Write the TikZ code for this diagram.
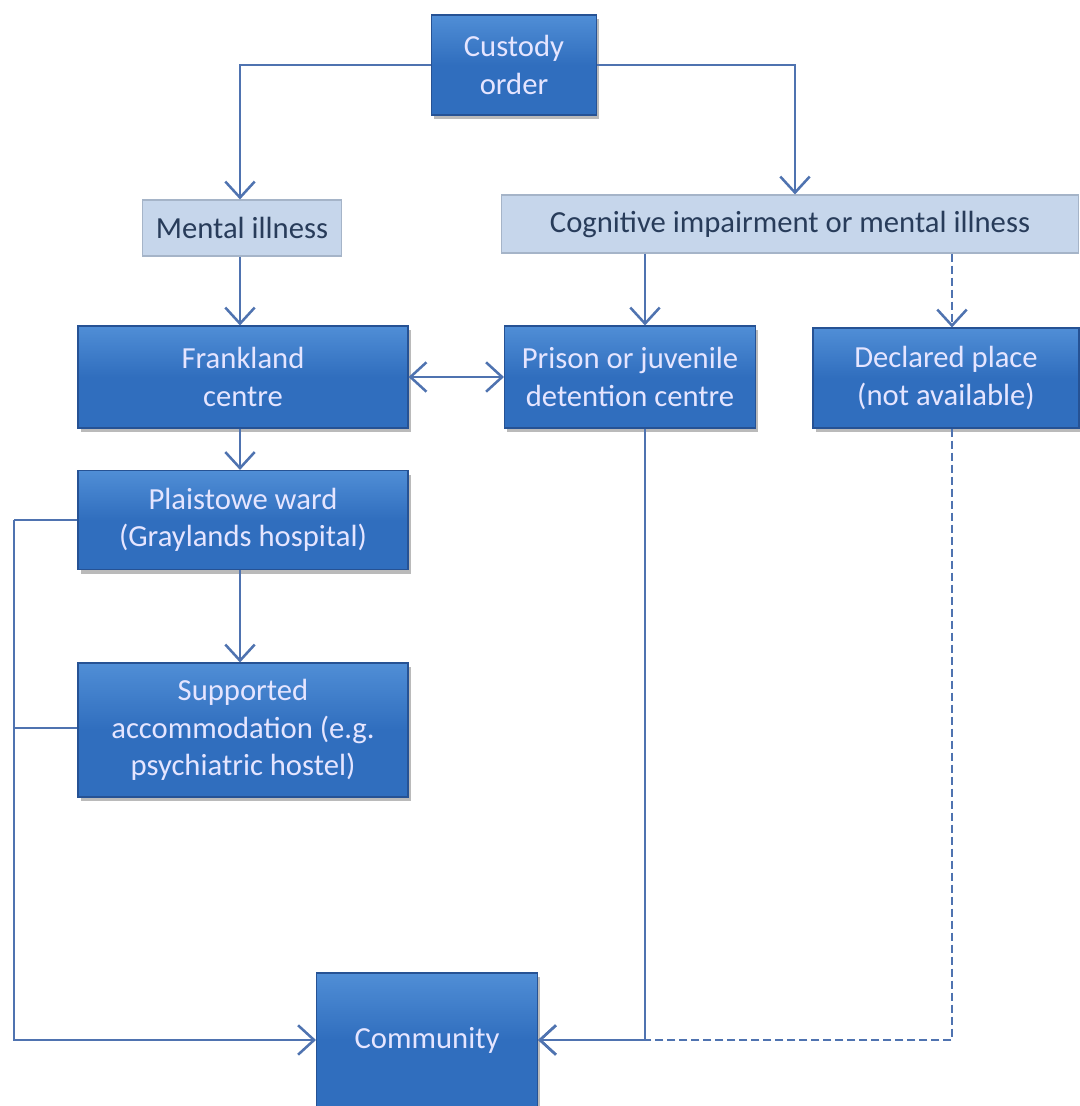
\documentclass[tikz,border=0pt]{standalone}
\usepackage{fontspec}
\setmainfont{Carlito}
\usetikzlibrary{arrows.meta,shadows,positioning}
\definecolor{linec}{RGB}{79,115,176}
\definecolor{boxc}{RGB}{48,110,190}
\definecolor{boxtop}{RGB}{80,142,214}
\definecolor{boxedge}{RGB}{38,82,148}
\definecolor{lightc}{RGB}{198,214,235}
\definecolor{lightedge}{RGB}{165,180,200}
\definecolor{darktext}{RGB}{40,60,90}
\tikzset{
  px/.style={x=0.75pt,y=-0.75pt},
  bluebox/.style={draw=boxedge, line width=0.8pt, top color=boxtop, bottom color=boxc, middle color=boxc,
    text=white!90!blue, align=center, inner sep=0pt,
    font=\fontsize{23}{28}\selectfont,
    drop shadow={shadow xshift=2pt, shadow yshift=-3pt, opacity=0.45, fill=black!60}},
  lightbox/.style={draw=lightedge, line width=0.8pt, fill=lightc, text=darktext, align=center, inner sep=0pt,
    font=\fontsize{23}{28}\selectfont},
  tip/.tip={Straight Barb[length=12pt,width=22pt,line width=1.9pt]},
  conn/.style={draw=linec, line width=1.9pt, -tip},
  plain/.style={draw=linec, line width=1.9pt},
  dconn/.style={conn, dash pattern=on 6pt off 3pt},
}
\begin{document}
\begin{tikzpicture}[px]
\useasboundingbox (0,0) rectangle (1079,1106);
% nodes
\node[bluebox, minimum width=165*0.75pt, minimum height=100*0.75pt] (custody) at (514,65) {Custody\\order};
\node[lightbox, minimum width=199*0.75pt, minimum height=56*0.75pt] (mental) at (242,228) {Mental illness};
\node[lightbox, minimum width=577*0.75pt, minimum height=58*0.75pt] (cog) at (790,224) {Cognitive impairment or mental illness};
\node[bluebox, minimum width=330*0.75pt, minimum height=102*0.75pt] (frank) at (243,377) {Frankland\\centre};
\node[bluebox, minimum width=251*0.75pt, minimum height=102*0.75pt] (prison) at (630,377) {Prison or juvenile\\detention centre};
\node[bluebox, minimum width=266*0.75pt, minimum height=100*0.75pt] (declared) at (946,378) {Declared place\\(not available)};
\node[bluebox, minimum width=330*0.75pt, minimum height=99*0.75pt] (plais) at (243,520) {Plaistowe ward\\(Graylands hospital)};
\node[bluebox, minimum width=330*0.75pt, minimum height=134*0.75pt] (supp) at (243,730) {Supported\\accommodation (e.g.\\psychiatric hostel)};
\node[bluebox, minimum width=221*0.75pt, minimum height=134*0.75pt] (comm) at (427,1040) {Community};
% helper coordinates
\coordinate (cl) at (240,65);
\coordinate (cr) at (795,65);
\coordinate (lx1) at (14,520);
\coordinate (lx2) at (14,728);
\coordinate (lx3) at (14,1040);
\coordinate (pb) at (645,1040);
\coordinate (db) at (952,1040);
% connectors
\draw[conn] (custody.west) -- (cl) -- (cl |- mental.north);
\draw[conn] (custody.east) -- (cr) -- (cr |- cog.north);
\draw[conn] (mental.south -| 240,0) -- (frank.north -| 240,0);
\draw[conn] (cog.south -| 645,0) -- (prison.north -| 645,0);
\draw[dconn] (cog.south -| 952,0) -- (declared.north -| 952,0);
\draw[conn, tip-tip] (frank.east) -- (prison.west);
\draw[conn] (frank.south -| 240,0) -- (plais.north -| 240,0);
\draw[conn] (plais.south -| 240,0) -- (supp.north -| 240,0);
\draw[plain] (plais.west) -- (lx1);
\draw[plain] (supp.west |- lx2) -- (lx2);
\draw[conn] (lx1) -- (lx3) -- (comm.west);
\draw[conn] (prison.south -| 645,0) -- (pb) -- (comm.east);
\draw[dconn] (declared.south -| 952,0) -- (db) -- (comm.east);
\end{tikzpicture}
\end{document}
